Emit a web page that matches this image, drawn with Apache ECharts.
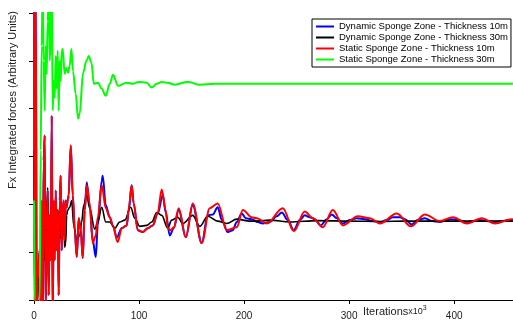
<!DOCTYPE html>
<html><head><meta charset="utf-8">
<script src="https://cdn.jsdelivr.net/npm/echarts@6/dist/echarts.min.js"></script>
<style>html,body{margin:0;padding:0;background:#fff}#c{width:513px;height:321px}</style>
</head><body><div id="c"></div>
<script>
const seriesNames = ['Dynamic Sponge Zone - Thickness 10m','Dynamic Sponge Zone - Thickness 30m','Static Sponge Zone - Thickness 10m','Static Sponge Zone - Thickness 30m'];
const xTicks = [0,100,200,300,400];
const earlyNoise = [[0,6.67],[0.7,-0.42],[1.6,6.67],[2.6,-0.42],[3.5,0.42],[5.4,1.04],[6.4,-0.42],[7.3,2.08],[8.3,-0.42],[9.2,2.92],[10.2,3.44],[11.1,-0.21],[12.1,1.46],[13.0,2.29],[14.0,0.10],[15.0,1.77],[15.9,0.83],[16.9,3.85],[17.8,-0.42],[18.8,2.08],[19.7,0.83],[20.7,2.29],[21.6,1.04],[22.6,1.88],[23.5,0.10],[24.5,2.08],[25.4,2.60],[26.4,1.04],[27.3,1.77],[28.3,2.08],[29.2,1.25],[30.2,2.08],[31.1,1.94],[32.1,2.08],[33.0,2.19],[35.0,3.23],[36.9,2.19],[38.8,1.46],[40.7,0.90],[42.6,1.71],[44.5,1.46]];
const dynamic10 = earlyNoise.concat([[46.4,0.88],[48.3,1.88],[50.2,2.46],[53.0,1.98],[55.9,1.25],[58.8,0.90],[60.7,1.56],[64.5,2.50],[65.4,2.60],[68.3,1.98],[72.1,1.73],[75.0,1.56],[78.8,1.31],[83.5,1.50],[88.3,1.56],[90.2,1.88],[93.0,2.40],[94.9,2.02],[98.8,1.46],[103.5,1.42],[108.3,1.50],[113.0,1.56],[117.8,1.81],[122.6,2.19],[125.4,1.83],[129.2,1.35],[133.0,1.50],[137.8,1.88],[144.5,1.31],[151.1,1.98],[159.7,1.19],[165.4,1.77],[170.2,1.79],[174.9,1.94],[178.8,1.67],[184.5,1.42],[189.2,1.46],[193.0,1.63],[197.8,1.81],[201.6,1.71],[207.3,1.69],[213.0,1.63],[217.8,1.60],[224.5,1.63],[231.1,1.75],[235.9,1.83],[241.6,1.67],[247.3,1.46],[253.0,1.67],[257.8,1.77],[262.6,1.73],[267.3,1.69],[273.0,1.56],[278.8,1.69],[283.5,1.79],[288.3,1.71],[294.0,1.60],[300.7,1.67],[307.3,1.71],[314.9,1.69],[322.6,1.65],[329.2,1.63],[335.9,1.67],[341.6,1.73],[348.3,1.73],[353.0,1.69],[359.7,1.58],[365.4,1.67],[372.1,1.71],[378.8,1.65],[386.4,1.63],[393.0,1.67],[397.8,1.69],[403.5,1.67],[412.1,1.63],[417.8,1.65],[424.5,1.67],[431.1,1.65],[438.8,1.63],[445.4,1.65],[451.1,1.67],[455.9,1.67]]);
const dynamic30 = [[0,3.13],[0.7,-0.42],[1.6,4.42],[2.6,-0.42],[3.5,0],[5.4,1.04],[6.4,-0.21],[7.3,1.25],[8.3,0],[9.2,1.67],[10.2,0.83],[11.1,2.08],[12.1,1.04],[13.0,2.35],[14.0,0.79],[15.0,1.77],[16.9,1.46],[18.8,1.98],[19.7,1.81],[21.6,1.25],[22.6,1.88],[24.5,1.46],[25.4,1.29],[26.4,1.88],[28.3,1.77],[29.2,1.10],[30.2,1.19],[31.1,1.77],[32.1,1.88],[34.0,1.94],[35.9,2.08],[37.8,1.56],[40.7,1.25],[43.5,1.35],[45.4,1.63],[47.3,1.98],[50.2,2.19],[53.0,1.92],[57.8,1.48],[60.7,1.63],[64.5,1.94],[68.3,1.63],[72.1,1.63],[76.9,1.50],[81.6,1.63],[86.4,1.67],[92.1,1.94],[95.9,1.71],[100.7,1.54],[107.3,1.56],[112.1,1.63],[116.9,1.83],[121.6,1.77],[127.3,1.50],[131.1,1.67],[136.9,1.73],[141.6,1.60],[151.1,1.77],[157.8,1.54],[165.4,1.75],[174.9,1.65],[183.5,1.60],[193.0,1.69],[205.4,1.65],[212.1,1.65],[224.5,1.67],[243.5,1.63],[270.0,1.66],[300.7,1.65],[330.0,1.64],[353.0,1.65],[400.0,1.65],[455.9,1.65]];
const static10 = earlyNoise.concat([[46.4,0.88],[48.3,1.88],[50.2,2.40],[53.0,2.02],[55.9,1.19],[58.8,1.35],[60.7,1.73],[64.5,2.40],[68.3,1.92],[72.1,1.73],[75.0,1.56],[79.7,1.21],[83.5,1.50],[88.3,1.56],[90.2,1.92],[93.0,2.40],[94.9,2.02],[98.8,1.46],[103.5,1.42],[108.3,1.50],[113.0,1.56],[117.8,1.83],[121.6,2.31],[125.4,1.88],[127.3,1.50],[130.2,1.46],[133.0,1.52],[137.8,1.92],[144.5,1.31],[151.1,2.02],[159.7,1.19],[167.3,1.92],[174.9,2.02],[183.5,1.46],[193.0,1.52],[198.8,1.88],[207.3,1.73],[212.1,1.71],[221.6,1.60],[236.9,1.92],[247.3,1.44],[257.8,1.85],[265.4,1.71],[274.9,1.52],[284.5,1.88],[294.0,1.56],[308.3,1.75],[319.7,1.71],[329.2,1.60],[345.4,1.81],[358.8,1.54],[372.1,1.79],[386.4,1.65],[398.8,1.73],[412.1,1.60],[426.4,1.71],[438.8,1.60],[454.9,1.69],[455.9,1.69]]);
const static30 = [[0,2.08],[0.7,0],[1.6,-0.63],[3.5,-0.63],[5.4,0],[6.4,3.13],[7.3,5.31],[8.3,6.67],[9.2,5.00],[10.2,3.96],[11.1,5.31],[12.1,4.73],[13.0,5.83],[14.0,6.67],[15.0,5.00],[15.9,5.63],[16.9,6.67],[17.8,3.96],[18.8,4.58],[19.7,4.23],[20.7,5.10],[21.6,4.42],[22.6,5.21],[23.5,3.96],[24.5,5.00],[25.4,4.58],[26.4,5.21],[27.3,5.25],[29.2,4.73],[30.9,4.85],[32.4,4.75],[34.0,4.90],[35.6,5.25],[37.1,4.79],[39.7,4.31],[41.9,3.79],[43.5,3.90],[46.7,4.75],[49.9,5.00],[52.1,5.10],[54.7,4.96],[56.9,4.52],[61.0,4.54],[64.2,4.42],[68.3,4.27],[72.1,4.52],[75.2,4.71],[80.0,4.48],[88.0,4.54],[94.0,4.52],[99.7,4.56],[107.3,4.54],[112.1,4.44],[116.9,4.52],[121.6,4.56],[127.3,4.54],[133.9,4.50],[146.4,4.56],[157.8,4.50],[172.1,4.52],[455.9,4.52]];
const seriesData = [dynamic10, dynamic30, static10, static30];
const colors = ['#0000ff','#000000','#ff0000','#00ff00'];
const widths = [2,1.6,2,2];

const chart = echarts.init(document.getElementById('c'), null, {renderer:'canvas'});
chart.setOption({
  animation:false,
  backgroundColor:'#fff',
  grid:{left:34,right:0,top:13,bottom:20,containLabel:false},
  xAxis:{type:'value',min:0,max:456,interval:100,
    axisLine:{show:true,onZero:false,lineStyle:{color:'#000',width:1}},
    axisTick:{show:true,length:4,lineStyle:{color:'#000'},customValues:xTicks},
    axisLabel:{show:true,margin:11,color:'#222',fontFamily:'Liberation Sans',fontSize:10,customValues:xTicks},
    splitLine:{show:false}},
  yAxis:{type:'value',min:0,max:6,interval:1,
    axisLine:{show:true,onZero:false,lineStyle:{color:'#000',width:1}},
    axisTick:{show:true,length:5,inside:false,lineStyle:{color:'#000'}},
    axisLabel:{show:false},splitLine:{show:false}},
  legend:{orient:'vertical',left:312,top:19,padding:[2,3,2,4],itemGap:0,itemWidth:18,itemHeight:2,icon:'rect',
    borderColor:'#000',borderWidth:1,backgroundColor:'#fff',
    textStyle:{fontFamily:'Liberation Sans',fontSize:9.5,color:'#000',lineHeight:11},
    data:seriesNames},
  graphic:[
    {type:'text',x:13,y:100,rotation:Math.PI/2,style:{text:'Fx Integrated forces (Arbitrary Units)',font:'11px "Liberation Sans"',fill:'#222',textAlign:'center',textVerticalAlign:'middle'}},
    {type:'text',x:363,y:312,style:{text:'{a|Iterations}{b|x10}{c|3}',textVerticalAlign:'middle',rich:{a:{font:'11px "Liberation Sans"',fill:'#222'},b:{font:'9px "Liberation Sans"',fill:'#222'},c:{font:'7px "Liberation Sans"',fill:'#222',verticalAlign:'top',padding:[0,0,8,0]}}}}
  ],
  series: seriesData.map((d,i)=>({name:seriesNames[i],type:'line',data:d,showSymbol:false,symbol:'none',smooth:0.35,smoothMonotone:'x',clip:true,
    lineStyle:{color:colors[i],width:widths[i]},itemStyle:{color:colors[i]},z:2}))
});
</script></body></html>
